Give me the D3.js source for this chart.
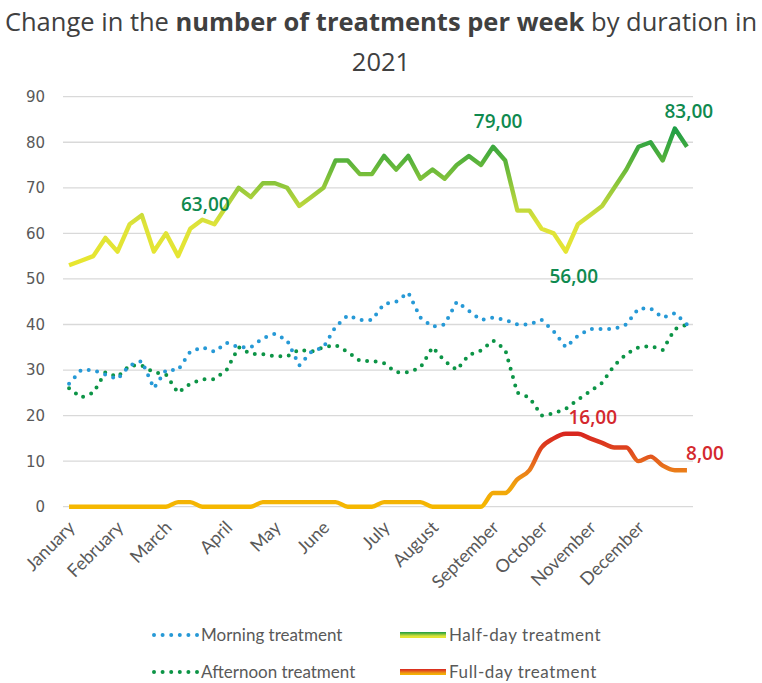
<!DOCTYPE html>
<html>
<head>
<meta charset="utf-8">
<script src="https://d3js.org/d3.v7.min.js"></script>
<style>
  body { margin: 0; background: #fff; }
  .tick-label { font-family: "DejaVu Sans", sans-serif; font-size: 15px; fill: #595959; }
  .month { font-family: Lato, sans-serif; font-size: 18px; fill: #595959; }
  .legend { font-family: Lato, sans-serif; font-size: 17px; fill: #595959; }
  .title { font-family: "Open Sans", sans-serif; font-size: 25.5px; fill: #404040; }
  .note { font-family: "Open Sans", sans-serif; font-size: 19px; font-weight: 600; }
</style>
</head>
<body>
<div id="chart"></div>
<script>

// weekly values, 2021
var weeks = d3.range(1, 53);
var months = ["January", "February", "March", "April", "May", "June", "July",
              "August", "September", "October", "November", "December"];
var monthStartWeek = [1, 5, 9, 14, 18, 22, 27, 31, 36, 40, 44, 48];
var yTicks = [0, 10, 20, 30, 40, 50, 60, 70, 80, 90];

var morning = [27, 30, 30, 29, 28, 31, 32, 26, 30, 30, 34, 35, 34, 36, 35, 35, 37, 38, 36.5, 31,
               34, 35, 39.5, 42, 41, 41, 44.5, 45, 47, 41.5, 39.5, 40, 45, 43, 41, 41.5, 41, 40, 40, 41,
               38.5, 35, 37.5, 39, 39, 39, 40, 43.5, 43.5, 41.5, 42.5, 40];
var afternoon = [26, 24, 25, 29.5, 28.5, 31, 31, 29.5, 29, 25, 27, 28, 28, 30, 35, 33.5, 33.5, 33, 33, 34.5,
                 34, 35, 35.5, 34, 32, 32, 31.5, 29.5, 29.5, 30.5, 35, 32, 30, 33.3, 34.3, 36.5, 34.5, 25, 24, 20,
                 20.5, 21.5, 23.5, 25.3, 27.2, 31, 33.5, 35, 35.3, 34.4, 39, 40];
var halfDay = [53, 54, 55, 59, 56, 62, 64, 56, 60, 55, 61, 63, 62, 66, 70, 68, 71, 71, 70, 66,
               68, 70, 76, 76, 73, 73, 77, 74, 77, 72, 74, 72, 75, 77, 75, 79, 76, 65, 65, 61,
               60, 56, 62, 64, 66, 70, 74, 79, 80, 76, 83, 79];
var fullDay = [0, 0, 0, 0, 0, 0, 0, 0, 0, 1, 1, 0, 0, 0, 0, 0, 1, 1, 1, 1,
               1, 1, 1, 0, 0, 0, 1, 1, 1, 1, 0, 0, 0, 0, 0, 3, 3, 6, 8, 13,
               15, 16, 16, 15, 14, 13, 13, 10, 11, 9, 8, 8];

// weeks carrying a data label
var halfDayNotes = [12, 36, 42, 51];
var fullDayNotes = [42, 52];

var width = 762, height = 683;
var plotLeft = 63, plotRight = 693, plotTop = 96.7, plotBottom = 506.7;

var svg = d3.select("#chart").append("svg")
    .attr("width", width)
    .attr("height", height);

var x = d3.scalePoint().domain(weeks).range([plotLeft, plotRight]).padding(0.5);
var y = d3.scaleLinear().domain([0, 90]).range([plotBottom, plotTop]);

// gradients
var defs = svg.append("defs");
function gradient(id, v0, v1, stops) {
  var g = defs.append("linearGradient").attr("id", id)
      .attr("gradientUnits", "userSpaceOnUse")
      .attr("x1", 0).attr("x2", 0)
      .attr("y1", y(v0)).attr("y2", y(v1));
  stops.forEach(function(s) {
    g.append("stop").attr("offset", s[0]).attr("stop-color", s[1]);
  });
}
var halfStops = [[0, "#e8e62f"], [0.3, "#dee33a"], [0.5, "#a9d03c"], [0.65, "#7cc03a"], [0.8, "#4dae3c"], [1, "#1e9e46"]];
var fullStops = [[0, "#f5b800"], [0.3, "#f0a00e"], [0.5, "#ea7b1a"], [0.75, "#e04b1e"], [1, "#d8261f"]];
gradient("gHalf", 53, 83, halfStops);
gradient("gFull", 0, 16, fullStops);

function legendGradient(id, stops) {
  var g = defs.append("linearGradient").attr("id", id)
      .attr("x1", 0).attr("x2", 0).attr("y1", 1).attr("y2", 0);
  stops.forEach(function(s) {
    g.append("stop").attr("offset", s[0]).attr("stop-color", s[1]);
  });
}
legendGradient("lgHalf", halfStops);
legendGradient("lgFull", fullStops);

// title
var title = svg.append("text").attr("class", "title")
    .attr("x", width / 2).attr("y", 31).attr("text-anchor", "middle");
title.append("tspan").text("Change in the ");
title.append("tspan").attr("font-weight", "bold").text("number of treatments per week");
title.append("tspan").text(" by duration in");
svg.append("text").attr("class", "title")
    .attr("x", width / 2).attr("y", 71).attr("text-anchor", "middle")
    .text("2021");

// grid + y labels
svg.append("g").selectAll("line")
  .data(yTicks)
  .enter().append("line")
    .attr("x1", plotLeft).attr("x2", plotRight)
    .attr("y1", function(d) { return y(d); })
    .attr("y2", function(d) { return y(d); })
    .attr("stroke", "#d9d9d9")
    .attr("stroke-width", 1.3);

svg.append("g").selectAll("text")
  .data(yTicks)
  .enter().append("text")
    .attr("class", "tick-label")
    .attr("x", 45)
    .attr("y", function(d) { return y(d); })
    .attr("dy", "0.36em")
    .attr("text-anchor", "end")
    .text(function(d) { return d; });

// month labels
svg.append("g").selectAll("text")
  .data(months)
  .enter().append("text")
    .attr("class", "month")
    .attr("text-anchor", "end")
    .attr("transform", function(d, i) {
      return "translate(" + (x(monthStartWeek[i]) + 7) + "," + (plotBottom + 22) + ") rotate(-45)";
    })
    .text(function(d) { return d; });

// lines
function lineOf(values, curve) {
  return d3.line()
    .x(function(d, i) { return x(weeks[i]); })
    .y(function(d) { return y(d); })
    .curve(curve || d3.curveLinear)(values);
}

svg.append("path")
    .attr("d", lineOf(fullDay, d3.curveMonotoneX))
    .attr("fill", "none")
    .attr("stroke", "url(#gFull)")
    .attr("stroke-width", 4.4)
    .attr("stroke-linejoin", "round");

svg.append("path")
    .attr("d", lineOf(afternoon))
    .attr("fill", "none")
    .attr("stroke", "#0c9446")
    .attr("stroke-width", 4)
    .attr("stroke-linecap", "round")
    .attr("stroke-dasharray", "0 8.6");

svg.append("path")
    .attr("d", lineOf(morning))
    .attr("fill", "none")
    .attr("stroke", "#2699d6")
    .attr("stroke-width", 4)
    .attr("stroke-linecap", "round")
    .attr("stroke-dasharray", "0 8.6");

svg.append("path")
    .attr("d", lineOf(halfDay))
    .attr("fill", "none")
    .attr("stroke", "url(#gHalf)")
    .attr("stroke-width", 4.4)
    .attr("stroke-linejoin", "round");

// data labels
function fmt(v) { return v.toFixed(2).replace(".", ","); }
var halfOffsets = { 12: [3, -16], 36: [5, -26], 42: [8, 25], 51: [14, -17] };
var fullOffsets = { 42: [27, -17], 52: [18, -17] };

svg.append("g").selectAll("text")
  .data(halfDayNotes)
  .enter().append("text")
    .attr("class", "note")
    .attr("fill", "#0f8a4f")
    .attr("text-anchor", "middle")
    .attr("dy", "0.36em")
    .attr("x", function(w) { return x(w) + halfOffsets[w][0]; })
    .attr("y", function(w) { return y(halfDay[w - 1]) + halfOffsets[w][1]; })
    .text(function(w) { return fmt(halfDay[w - 1]); });

svg.append("g").selectAll("text")
  .data(fullDayNotes)
  .enter().append("text")
    .attr("class", "note")
    .attr("fill", "#d4282e")
    .attr("text-anchor", "middle")
    .attr("dy", "0.36em")
    .attr("x", function(w) { return x(w) + fullOffsets[w][0]; })
    .attr("y", function(w) { return y(fullDay[w - 1]) + fullOffsets[w][1]; })
    .text(function(w) { return fmt(fullDay[w - 1]); });

// legend
var legendItems = [
  { name: "Morning treatment", type: "dot", color: "#2699d6", col: 0, row: 0 },
  { name: "Half-day treatment", type: "grad", color: "url(#lgHalf)", col: 1, row: 0 },
  { name: "Afternoon treatment", type: "dot", color: "#0c9446", col: 0, row: 1 },
  { name: "Full-day treatment", type: "grad", color: "url(#lgFull)", col: 1, row: 1 }
];
var legend = svg.append("g").selectAll("g")
  .data(legendItems)
  .enter().append("g")
    .attr("transform", function(d) {
      return "translate(" + (d.col ? 400 : 152) + "," + (d.row ? 672 : 635) + ")";
    });

legend.filter(function(d) { return d.type === "dot"; })
  .append("line")
    .attr("x1", 2).attr("x2", 46).attr("y1", 0).attr("y2", 0)
    .attr("stroke", function(d) { return d.color; })
    .attr("stroke-width", 4)
    .attr("stroke-linecap", "round")
    .attr("stroke-dasharray", "0 8.6");

legend.filter(function(d) { return d.type === "grad"; })
  .append("rect")
    .attr("x", 0).attr("y", -3).attr("width", 46).attr("height", 6)
    .attr("fill", function(d) { return d.color; });

legend.append("text")
    .attr("class", "legend")
    .attr("x", 49)
    .attr("dy", "0.35em")
    .attr("letter-spacing", function(d) { return d.col ? "0.6px" : "0px"; })
    .text(function(d) { return d.name; });

</script>
</body>
</html>
